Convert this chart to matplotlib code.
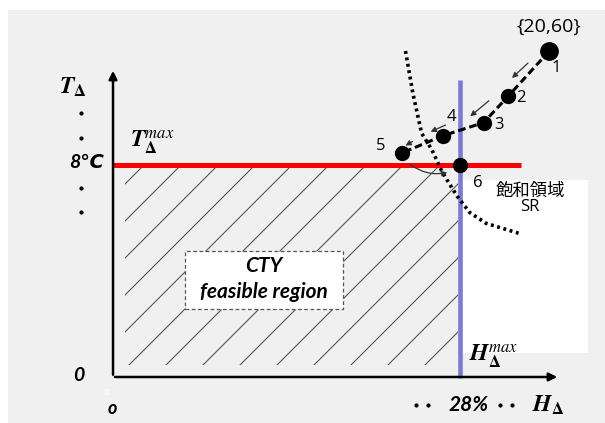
import numpy as np
import matplotlib
matplotlib.use("Agg")
import matplotlib.pyplot as plt
import matplotlib.patches as patches
from matplotlib.patches import FancyArrowPatch

plt.rcParams['mathtext.fontset'] = 'stix'

# diagram data (H in %, T in degC)
H_MAX = 28.0
T_MAX = 8.0
path_h = [35.2, 31.9, 29.9, 26.6, 23.3]      # points 1..5
path_t = [12.3, 10.6, 9.6, 9.1, 8.45]
pt6 = (28.0, 8.0)
point_labels = ["1", "2", "3", "4", "5", "6"]
label_h = [35.75, 32.9, 31.15, 27.3, 21.6, 29.4]
label_t = [11.66, 10.53, 9.51, 9.81, 8.72, 7.32]

# saturation region boundary (dotted)
sr_h = [23.6, 24.2, 24.9, 25.7, 26.6, 27.8, 28.8, 30.1, 32.9]
sr_t = [12.3, 10.7, 9.2, 8.6, 7.7, 6.8, 6.2, 5.8, 5.4]

# small arrows along the path (start, end)
step_arrows = [((33.65, 11.92), (32.03, 11.21)),
               ((30.50, 10.49), (28.65, 9.77)),
               ((27.03, 9.55), (25.42, 9.21)),
               ((24.37, 8.94), (23.40, 8.68))]

fig = plt.figure(figsize=(6.05, 4.23), dpi=100)
ax = fig.add_axes([0, 0, 1, 1])
ax.set_xlim(-9.12, 39.70)
ax.set_ylim(-1.736, 14.226)
ax.axis('off')

# gray page background
ax.add_patch(patches.Rectangle((8 / 605, 0), 1, 1 - 10 / 423, transform=ax.transAxes,
                               facecolor='#f0f0f0', edgecolor='none', zorder=0))

# hatched feasible region (45 deg in pixels)
px_h = 12.393  # px per %
px_t = 26.5    # px per degC
clip = patches.Rectangle((1.0, 0.45), H_MAX - 1.2, T_MAX - 0.55,
                         facecolor='none', edgecolor='none')
ax.add_patch(clip)
for c in np.arange(-400, 800, 37):
    # y_px = 377 - t*px_t ; x_px = 113 + h*px_h ; x_px + y_px = c + 339
    xs = np.array([-10, 45])
    ys = (113 + xs * px_h + 377 - (c + 339)) / px_t
    ln, = ax.plot(xs, ys, color='#555555', lw=0.8, zorder=1)
    ln.set_clip_path(clip)

# white box on right
ax.add_patch(patches.Rectangle((28.24, 0.906), 10.1, 6.52, facecolor='white',
                               edgecolor='none', zorder=1))

# CTY box
ax.add_patch(patches.Rectangle((5.81, 2.57), 12.75, 2.18, facecolor='white',
                               edgecolor='#555555', lw=0.9, ls=(0, (3, 2)), zorder=2))
ax.text(12.18, 4.17, "CTY", ha='center', va='center', fontsize=15,
        fontweight='bold', style='italic', family='Lato', zorder=3)
ax.text(12.18, 3.20, "feasible region", ha='center', va='center', fontsize=15,
        fontweight='bold', style='italic', family='Lato', zorder=3)

# limits
ax.plot([0, 32.92], [T_MAX, T_MAX], color='#ff0000', lw=3.6, zorder=3, solid_capstyle='butt')
ax.plot([H_MAX, H_MAX], [-0.05, 11.2], color='#7b7bd0', lw=3.3, zorder=3, solid_capstyle='butt')

# axes with arrows
ax.annotate("", xy=(0, 11.66), xytext=(0, -0.02),
            arrowprops=dict(arrowstyle='-|>', color='black', lw=1.8, mutation_scale=12), zorder=4)
ax.annotate("", xy=(36.07, 0), xytext=(-0.07, 0),
            arrowprops=dict(arrowstyle='-|>', color='black', lw=1.8, mutation_scale=12), zorder=4)

# saturation boundary
ax.plot(sr_h, sr_t, color='black', lw=2.6, ls=(0, (0.8, 1.0)), zorder=5)

# path
ax.plot(path_h, path_t, color='black', lw=2.2, ls=(0, (2.5, 1.3)), zorder=5)
ax.plot(path_h[:1], path_t[:1], 'o', color='black', ms=12.5, zorder=6)
ax.plot(path_h[1:], path_t[1:], 'o', color='black', ms=10, zorder=6)
ax.plot([pt6[0]], [pt6[1]], 'o', color='black', ms=10, zorder=6)

for (s, e) in step_arrows:
    ax.add_patch(FancyArrowPatch(s, e, arrowstyle='-|>', mutation_scale=8,
                                 color='#333333', lw=0.9, zorder=5))
ax.add_patch(FancyArrowPatch((23.8, 8.08), (27.19, 7.74), arrowstyle='-|>',
                             connectionstyle='arc3,rad=0.25', mutation_scale=8,
                             color='#333333', lw=0.9, zorder=5))

for lab, h, t in zip(point_labels, label_h, label_t):
    ax.text(h, t, lab, ha='center', va='center', fontsize=12, family='Open Sans', zorder=7)
ax.text(35.18, 13.21, "{20,60}", ha='center', va='center', fontsize=14,
        family='Open Sans', zorder=7)
ax.text(33.65, 7.02, "飽和領域", ha='center', va='center', fontsize=12.5,
        family=['Noto Sans CJK JP', 'DejaVu Sans'], zorder=7)
ax.text(33.65, 6.40, "SR", ha='center', va='center', fontsize=12,
        family='Open Sans', zorder=7)

# axis labels
ax.text(-3.23, 10.94, r'$\mathbfit{T}_{\mathbf{\Delta}}$', ha='center', va='center', fontsize=17)
ax.text(3.15, 8.87, r'$\mathbfit{T}_{\mathbf{\Delta}}^{max}$', ha='center', va='center', fontsize=17)
ax.text(30.74, 0.80, r'$\mathbfit{H}_{\mathbf{\Delta}}^{max}$', ha='center', va='center', fontsize=17, zorder=7)
ax.text(35.1, -1.06, r'$\mathbfit{H}_{\mathbf{\Delta}}$', ha='center', va='center', fontsize=17)

ax.plot([-2.58] * 4, [9.96, 9.02, 7.13, 6.23], 'o', color='black', ms=2.0)
ax.plot([24.45, 25.42, 31.23, 32.2], [-1.06] * 4, 'o', color='black', ms=2.0)

ax.text(-2.1, 8.08, "8℃", ha='center', va='center', fontsize=14, fontweight='bold',
        style='italic', family=['Lato', 'DejaVu Sans'])
ax.text(-2.74, 0.075, "0", ha='center', va='center', fontsize=14, fontweight='bold',
        style='italic', family='Lato')
ax.text(-0.08, -1.17, "o", ha='center', va='center', fontsize=13, fontweight='bold',
        style='italic', family='Lato')
ax.text(-0.55, -0.56, "o", ha='center', va='center', fontsize=7, color='white')
ax.text(28.73, -1.06, "28%", ha='center', va='center', fontsize=15, fontweight='bold',
        style='italic', family='Lato')

fig.savefig("out.png", dpi=100)
